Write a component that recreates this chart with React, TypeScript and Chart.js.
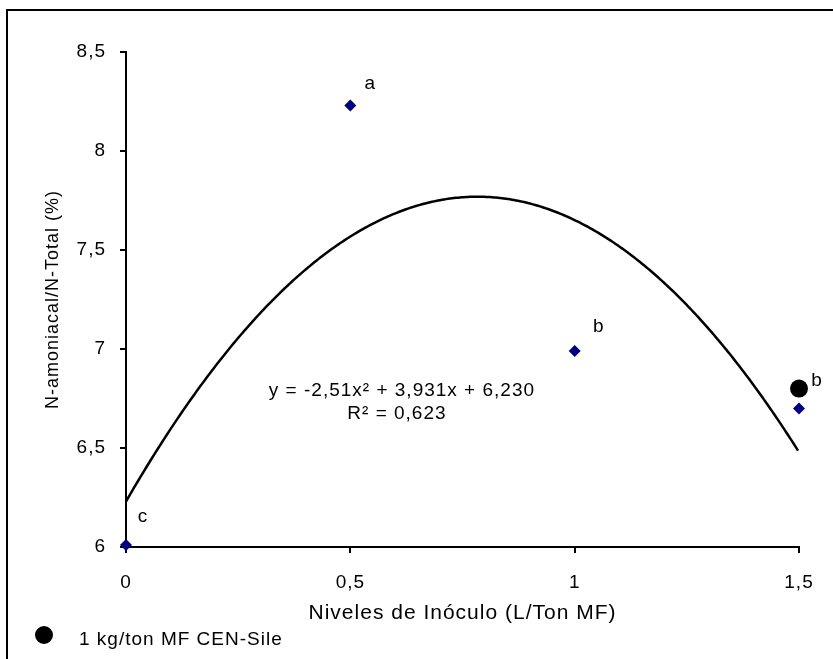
import React, { useEffect, useRef } from "react";
import { Chart, registerables } from "chart.js";

Chart.register(...registerables);

const levels = [0, 0.5, 1, 1.5];
const nAmoniacal = [6.01, 8.23, 6.99, 6.70];
const letters = ["c", "a", "b", "b"];
const cenSileX = [1.5];
const cenSileY = [6.8];
const cenSileLetter = ["b"];
const fitCoefs = [-2.51, 3.931, 6.23];
const equationLines = ["y = -2,51x² + 3,931x + 6,230", "R² = 0,623"];
const legendLabel = "1 kg/ton MF CEN-Sile";
const xTitle = "Niveles de Inóculo (L/Ton MF)";
const yTitle = "N-amoniacal/N-Total (%)";

const FONT = "'Liberation Sans', Arial, sans-serif";
const SPACING = "1px";

const comma = (v: number | string) => String(Number(v)).replace(".", ",");

const setSpacing = (chart: any) => {
  try {
    chart.ctx.letterSpacing = SPACING;
  } catch (e) {}
};

const letterOffsets = [
  [17, -28],
  [20, -22],
  [24, -24],
];

const extrasPlugin = {
  id: "extras",
  beforeLayout(chart: any) {
    setSpacing(chart);
  },
  beforeDraw(chart: any) {
    setSpacing(chart);
    const ctx = chart.ctx;
    ctx.save();
    ctx.strokeStyle = "#000";
    ctx.lineWidth = 2;
    ctx.beginPath();
    ctx.moveTo(7, chart.height);
    ctx.lineTo(7, 10);
    ctx.lineTo(chart.width, 10);
    ctx.stroke();
    ctx.restore();
  },
  afterDatasetsDraw(chart: any) {
    const ctx = chart.ctx;
    const xs = chart.scales.x;
    const ys = chart.scales.y;
    ctx.save();
    // trendline from the fit coefficients shown on the chart
    ctx.strokeStyle = "#000";
    ctx.lineWidth = 2.5;
    ctx.lineJoin = "round";
    ctx.beginPath();
    const x0 = xs.getPixelForValue(0);
    const x1 = xs.getPixelForValue(1.5);
    let first = true;
    for (let px = x0; px <= x1 + 0.01; px += 2) {
      const v = xs.getValueForPixel(px);
      const yv = fitCoefs[0] * v * v + fitCoefs[1] * v + fitCoefs[2];
      const py = ys.getPixelForValue(yv);
      if (first) {
        ctx.moveTo(px, py);
        first = false;
      } else ctx.lineTo(px, py);
    }
    ctx.stroke();
    // significance letters
    ctx.fillStyle = "#000";
    ctx.font = `19px ${FONT}`;
    ctx.textAlign = "center";
    ctx.textBaseline = "middle";
    levels.forEach((x, i) => {
      if (i === 3) return;
      const [dx, dy] = letterOffsets[i];
      ctx.fillText(letters[i], xs.getPixelForValue(x) + dx, ys.getPixelForValue(nAmoniacal[i]) + dy);
    });
    ctx.fillText(cenSileLetter[0], xs.getPixelForValue(cenSileX[0]) + 18, ys.getPixelForValue(cenSileY[0]) - 8);
    // equation
    const ex = xs.getPixelForValue(0.615);
    const ey = ys.getPixelForValue(6.79);
    ctx.fillText(equationLines[0], ex, ey);
    ctx.fillText(equationLines[1], ex - 5, ey + 23);
    // legend
    const ds = chart.data.datasets[1];
    ctx.beginPath();
    ctx.fillStyle = ds.backgroundColor;
    ctx.arc(44, 635, ds.pointRadius, 0, Math.PI * 2);
    ctx.fill();
    ctx.fillStyle = "#000";
    ctx.textAlign = "left";
    ctx.font = `19px ${FONT}`;
    ctx.fillText(ds.label, 79, 640);
    ctx.restore();
  },
};

export default function App() {
  const ref = useRef<HTMLCanvasElement>(null);
  useEffect(() => {
    if (!ref.current) return;
    const chart = new Chart(ref.current, {
      type: "scatter",
      data: {
        datasets: [
          {
            label: "Niveles",
            data: levels.map((x, i) => ({ x, y: nAmoniacal[i] })),
            pointStyle: "rectRot",
            pointRadius: 6,
            backgroundColor: "#000080",
            borderColor: "#000080",
            borderWidth: 0,
            clip: false,
          },
          {
            label: legendLabel,
            data: cenSileX.map((x, i) => ({ x, y: cenSileY[i] })),
            pointStyle: "circle",
            pointRadius: 9,
            backgroundColor: "#000",
            borderColor: "#000",
            borderWidth: 0,
            clip: false,
          },
        ],
      },
      options: {
        animation: false,
        responsive: false,
        maintainAspectRatio: false,
        layout: { padding: { left: 0, right: 34, top: 52, bottom: 33 } },
        plugins: {
          tooltip: { enabled: false },
          legend: { display: false },
        },
        scales: {
          x: {
            type: "linear",
            min: 0,
            max: 1.5,
            ticks: {
              stepSize: 0.5,
              color: "#000",
              font: { family: FONT, size: 19 },
              padding: 18,
              callback: (v: any) => comma(v),
            },
            grid: { drawOnChartArea: false, drawTicks: true, tickLength: 6, color: "#000", lineWidth: 2 },
            border: { display: true, color: "#000", width: 2 },
            title: { display: true, text: xTitle, color: "#000", font: { family: FONT, size: 21 }, padding: { top: -11, bottom: 0 } },
          },
          y: {
            type: "linear",
            min: 6,
            max: 8.5,
            ticks: {
              stepSize: 0.5,
              color: "#000",
              font: { family: FONT, size: 19 },
              padding: 14,
              callback: (v: any) => comma(v),
            },
            grid: { drawOnChartArea: false, drawTicks: true, tickLength: 6, color: "#000", lineWidth: 2 },
            border: { display: true, color: "#000", width: 2 },
            title: { display: true, text: yTitle, color: "#000", font: { family: FONT, size: 18 }, padding: { top: 42, bottom: -1 } },
          },
        },
      },
      plugins: [extrasPlugin],
    });
    return () => chart.destroy();
  }, []);
  return (
    <div style={{ position: "absolute", left: 0, top: 0, width: 833, height: 659, background: "#fff" }}>
      <canvas ref={ref} width={833} height={659} style={{ display: "block" }} />
    </div>
  );
}
